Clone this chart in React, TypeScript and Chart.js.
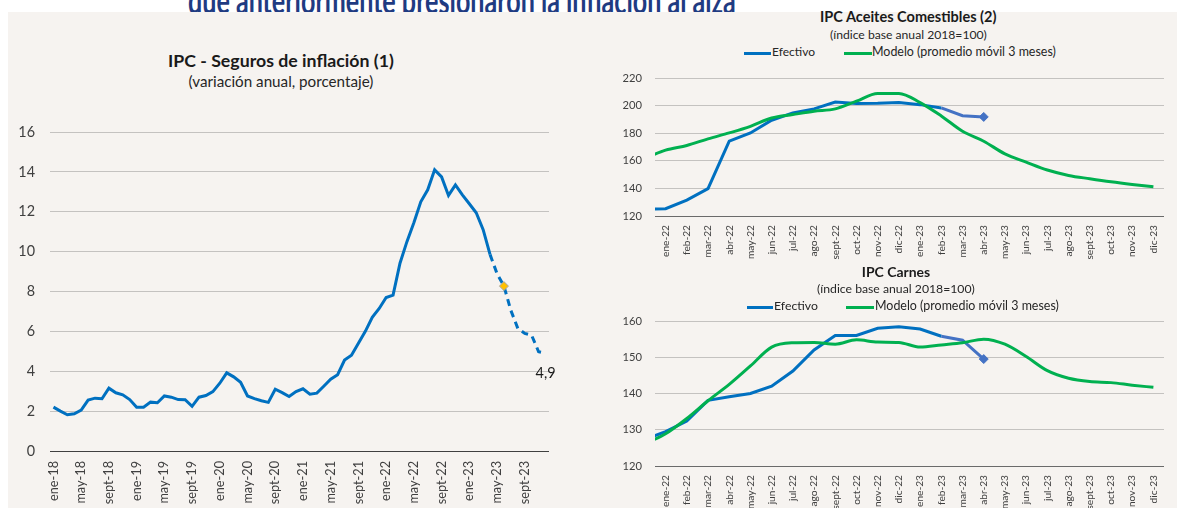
import React, { useEffect, useRef } from 'react';
import { Chart, registerables } from 'chart.js';

Chart.register(...registerables);

const FONT = 'Lato';
const MONTHS = ['ene', 'feb', 'mar', 'abr', 'may', 'jun', 'jul', 'ago', 'sept', 'oct', 'nov', 'dic'];

// ---- Left chart: IPC - Seguros de inflación ----
const SEGUROS_YEARS = ['18', '19', '20', '21', '22', '23'];
const SEGUROS_MONTHS = SEGUROS_YEARS.flatMap((y) => MONTHS.map((m) => `${m}-${y}`));
const SEGUROS_TICK_LABELS = SEGUROS_MONTHS.filter((_, i) => i % 4 === 0);
const SEGUROS_VALUES = [
  2.2, 2.0, 1.82, 1.87, 2.05, 2.55, 2.65, 2.62, 3.15, 2.92, 2.82, 2.58,
  2.2, 2.2, 2.45, 2.42, 2.76, 2.7, 2.58, 2.57, 2.24, 2.7, 2.78, 2.98,
  3.4, 3.92, 3.72, 3.45, 2.76, 2.63, 2.52, 2.44, 3.1, 2.93, 2.73, 2.98,
  3.12, 2.85, 2.9, 3.25, 3.6, 3.83, 4.56, 4.8, 5.4, 6.0, 6.7, 7.15,
  7.7, 7.82, 9.42, 10.5, 11.45, 12.5, 13.1, 14.1, 13.75, 12.82, 13.35, 12.85,
  12.4, 11.95, 11.1, 9.85, 8.9, 8.27, 7.05, 6.15, 5.9, 5.8, 4.98, 4.9,
];
const SEGUROS_FORECAST_FROM = 'abr-23';
const SEGUROS_MARKER_AT = 'jun-23';
const SEGUROS_Y_TICKS = [0, 2, 4, 6, 8, 10, 12, 14, 16];

// ---- Right charts ----
const PANEL_MONTHS = ['22', '23'].flatMap((y) => MONTHS.map((m) => `${m}-${y}`));
const PRIOR_MONTH = 'dic-21';
const PANEL_SERIES_MONTHS = [PRIOR_MONTH, ...PANEL_MONTHS];
const EFECTIVO_LATEST_FROM = 'feb-23';

const ACEITES_EFECTIVO = [124.8, 125.3, 131.5, 139.8, 174.2, 180.2, 189.4, 194.7, 197.6, 202.6, 201.5, 201.7, 202.3, 200.7, 198.3, 192.7, 191.8];
const ACEITES_MODELO = [161.5, 167.7, 171.1, 175.9, 180.2, 185, 191, 193.5, 195.9, 197.6, 203.2, 208.8, 208.8, 202.2, 192.5, 181.4, 174.2, 165, 159, 153.3, 149.4, 147, 144.8, 142.9, 141.2];
const ACEITES_Y_TICKS = [120, 140, 160, 180, 200, 220];

const CARNES_EFECTIVO = [127.3, 129.5, 132.4, 138.1, 139.1, 140, 142, 146.2, 152, 156, 156, 158, 158.4, 157.8, 155.8, 154.7, 149.5];
const CARNES_MODELO = [126.1, 128.9, 133.1, 138, 142.5, 147.6, 152.8, 154, 154.1, 153.6, 154.8, 154.2, 154.1, 152.8, 153.4, 154, 155, 153.6, 150.2, 146.3, 144.2, 143.3, 143, 142.3, 141.7];
const CARNES_Y_TICKS = [120, 130, 140, 150, 160];

// ---- Styles ----
const BG = '#f6f3f0';
const BLUE = '#0070c0';
const BLUE_LIGHT = '#4472c4';
const GREEN = '#00b050';
const MARK_FILL = '#ffc000';
const MARK_BORDER = '#a5a5a5';
const GRID = '#c4c2c0';
const AXIS_LEFT = '#404040';
const AXIS_RIGHT = '#6a6a6a';
const TICK = '#404040';
const TITLE_BLUE = '#1f3b82';

const mctx = document.createElement('canvas').getContext('2d') as CanvasRenderingContext2D;
function fitSize(text: string, weight: string, width: number) {
  mctx.font = `${weight} 100px ${FONT}`;
  return (100 * width) / mctx.measureText(text).width;
}

Chart.defaults.font.family = FONT;
Chart.defaults.color = TICK;

const LEFT_X_FONT = fitSize('ene-18', 'normal', 40);
const LEFT_Y_FONT = fitSize('16', 'normal', 16.7);
const RIGHT_X_FONT = fitSize('ene-22', 'normal', 32);
const RIGHT_Y_FONT = fitSize('200', 'normal', 19.5);
const LAST_LABEL_FONT = fitSize('4,9', 'normal', 20);

const lastLabelPlugin = {
  id: 'lastLabel',
  afterDatasetsDraw(chart: any) {
    const meta = chart.getDatasetMeta(0);
    const pt = meta.data[meta.data.length - 1];
    const v = SEGUROS_VALUES[SEGUROS_VALUES.length - 1];
    const ctx = chart.ctx;
    ctx.save();
    ctx.font = `${LAST_LABEL_FONT}px ${FONT}`;
    ctx.fillStyle = '#1a1a1a';
    ctx.textAlign = 'center';
    ctx.textBaseline = 'middle';
    ctx.fillText(v.toFixed(1).replace('.', ','), pt.x, pt.y + 20);
    ctx.restore();
  },
};

function leftConfig(): any {
  const fIdx = SEGUROS_MONTHS.indexOf(SEGUROS_FORECAST_FROM);
  const mIdx = SEGUROS_MONTHS.indexOf(SEGUROS_MARKER_AT);
  return {
    type: 'line',
    data: {
      labels: SEGUROS_MONTHS,
      datasets: [
        {
          data: SEGUROS_VALUES,
          borderColor: BLUE,
          borderWidth: 3,
          tension: 0,
          segment: { borderDash: (c: any) => (c.p0DataIndex >= fIdx ? [7, 5] : undefined) },
          pointRadius: (c: any) => (c.dataIndex === mIdx ? 4.5 : 0),
          pointHoverRadius: 0,
          pointStyle: 'rectRot',
          pointBackgroundColor: MARK_FILL,
          pointBorderColor: MARK_BORDER,
          pointBorderWidth: 1,
        },
      ],
    },
    options: {
      responsive: false,
      animation: false,
      events: [],
      layout: { padding: { top: 20, right: 11, left: 0, bottom: 0 } },
      plugins: { legend: { display: false }, tooltip: { enabled: false } },
      scales: {
        x: {
          type: 'category',
          offset: true,
          grid: { display: false, drawTicks: false },
          border: { display: false },
          ticks: {
            autoSkip: false,
            maxRotation: 90,
            minRotation: 90,
            padding: 10,
            color: TICK,
            font: { family: FONT, size: LEFT_X_FONT },
            callback: (_v: any, i: number) => (SEGUROS_TICK_LABELS.includes(SEGUROS_MONTHS[i]) ? SEGUROS_MONTHS[i] : ''),
          },
          afterFit: (s: any) => {
            s.height = 57;
            s.paddingLeft = 0;
            s.paddingRight = 0;
          },
        },
        y: {
          min: SEGUROS_Y_TICKS[0],
          max: SEGUROS_Y_TICKS[SEGUROS_Y_TICKS.length - 1],
          ticks: { stepSize: SEGUROS_Y_TICKS[1] - SEGUROS_Y_TICKS[0], padding: 15, color: TICK, font: { family: FONT, size: LEFT_Y_FONT } },
          grid: {
            color: (c: any) => (c.tick && c.tick.value === SEGUROS_Y_TICKS[0] ? AXIS_LEFT : GRID),
            drawTicks: false,
            lineWidth: 1,
          },
          border: { display: false },
          afterFit: (s: any) => {
            s.width = 50;
            s.paddingTop = 0;
            s.paddingBottom = 0;
          },
        },
      },
    },
    plugins: [lastLabelPlugin],
  };
}

function panelConfig(efectivo: number[], modelo: number[], yTicks: number[], padTop: number, xHeight: number): any {
  const lightFrom = PANEL_SERIES_MONTHS.indexOf(EFECTIVO_LATEST_FROM);
  const lastIdx = efectivo.length - 1;
  return {
    type: 'line',
    data: {
      datasets: [
        {
          label: 'Efectivo',
          order: 1,
          data: efectivo.map((y, i) => ({ x: i - 1, y })),
          borderColor: BLUE,
          borderWidth: 3,
          tension: 0,
          segment: { borderColor: (c: any) => (c.p0DataIndex >= lightFrom ? BLUE_LIGHT : undefined) },
          pointRadius: (c: any) => (c.dataIndex === lastIdx ? 4.5 : 0),
          pointHoverRadius: 0,
          pointStyle: 'rectRot',
          pointBackgroundColor: BLUE_LIGHT,
          pointBorderColor: BLUE_LIGHT,
          pointBorderWidth: 1,
        },
        {
          label: 'Modelo (promedio móvil 3 meses)',
          order: 0,
          data: modelo.map((y, i) => ({ x: i - 1, y })),
          borderColor: GREEN,
          borderWidth: 3,
          cubicInterpolationMode: 'monotone',
          pointRadius: 0,
          pointHoverRadius: 0,
        },
      ],
    },
    options: {
      responsive: false,
      animation: false,
      events: [],
      layout: { padding: { top: padTop, right: 13, left: 0, bottom: 0 } },
      plugins: { legend: { display: false }, tooltip: { enabled: false } },
      scales: {
        x: {
          type: 'linear',
          min: -0.5,
          max: PANEL_MONTHS.length - 0.5,
          bounds: 'data',
          grid: { display: false, drawTicks: false },
          border: { display: false },
          afterBuildTicks: (s: any) => {
            s.ticks = PANEL_MONTHS.map((_, i) => ({ value: i }));
          },
          ticks: {
            autoSkip: false,
            maxRotation: 90,
            minRotation: 90,
            padding: 9,
            color: TICK,
            font: { family: FONT, size: RIGHT_X_FONT },
            callback: (v: any) => PANEL_MONTHS[Math.round(v)] ?? '',
          },
          afterFit: (s: any) => {
            s.height = xHeight;
            s.paddingLeft = 0;
            s.paddingRight = 0;
          },
        },
        y: {
          min: yTicks[0],
          max: yTicks[yTicks.length - 1],
          ticks: { stepSize: yTicks[1] - yTicks[0], padding: 13, color: TICK, font: { family: FONT, size: RIGHT_Y_FONT } },
          grid: {
            color: (c: any) => (c.tick && c.tick.value === yTicks[0] ? AXIS_RIGHT : GRID),
            drawTicks: false,
            lineWidth: 1,
          },
          border: { display: false },
          afterFit: (s: any) => {
            s.width = 95;
            s.paddingTop = 0;
            s.paddingBottom = 0;
          },
        },
      },
    },
  };
}

function ChartCanvas({ left, top, width, height, make }: { left: number; top: number; width: number; height: number; make: () => any }) {
  const ref = useRef<HTMLCanvasElement>(null);
  useEffect(() => {
    const chart = new Chart(ref.current as HTMLCanvasElement, make());
    return () => chart.destroy();
  }, []);
  return <canvas ref={ref} width={width} height={height} style={{ position: 'absolute', left, top, width, height }} />;
}

function Txt({ text, x, cx, y, baseline, w, weight = 'normal', color = '#1a1a1a', stretchY = 1 }: any) {
  const fs = fitSize(text, weight, w);
  const left = cx !== undefined ? cx - w / 2 : x;
  const base = baseline !== undefined ? baseline : y + 0.3 * fs;
  return (
    <div
      style={{
        position: 'absolute',
        left,
        top: base - 0.887 * fs,
        fontFamily: FONT,
        fontWeight: weight as any,
        fontSize: fs,
        lineHeight: `${fs}px`,
        color,
        whiteSpace: 'nowrap',
        transform: stretchY !== 1 ? `scaleY(${stretchY})` : undefined,
        transformOrigin: `0 ${0.887 * fs}px`,
      }}
    >
      {text}
    </div>
  );
}

function LegendLine({ x1, x2, y, color }: { x1: number; x2: number; y: number; color: string }) {
  return <div style={{ position: 'absolute', left: x1, top: y - 1.5, width: x2 - x1, height: 3, background: color }} />;
}

export default function App() {
  useEffect(() => {
    document.body.style.margin = '0';
    document.body.style.overflow = 'hidden';
  }, []);
  return (
    <div style={{ position: 'fixed', left: 0, top: 0, width: 1177, height: 508, background: '#ffffff', overflow: 'hidden' }}>
      <Txt text="que anteriormente presionaron la inflación al alza" x={188} baseline={14} w={548} weight="bold" color={TITLE_BLUE} stretchY={1.5} />
      <div style={{ position: 'absolute', left: 8, top: 12, width: 1169, height: 496, background: BG }} />

      <Txt text="IPC - Seguros de inflación (1)" cx={281} y={62} w={226} weight="bold" />
      <Txt text="(variación anual, porcentaje)" cx={281} y={83} w={185} color="#262626" />
      <ChartCanvas left={0} top={112} width={560} height={396} make={leftConfig} />

      <Txt text="IPC Aceites Comestibles (2)" cx={908.5} y={19} w={177} weight="bold" />
      <Txt text="(índice base anual 2018=100)" cx={908.5} y={36} w={157} color="#262626" />
      <LegendLine x1={743.5} x2={771} y={53} color={BLUE} />
      <Txt text="Efectivo" x={772} y={53} w={43} color="#262626" />
      <LegendLine x1={843.6} x2={871.6} y={53} color={GREEN} />
      <Txt text="Modelo (promedio móvil 3 meses)" x={872} y={53} w={184} color="#262626" />
      <ChartCanvas left={560} top={64} width={617} height={204} make={() => panelConfig(ACEITES_EFECTIVO, ACEITES_MODELO, ACEITES_Y_TICKS, 14, 52)} />

      <Txt text="IPC Carnes" cx={896} y={273} w={68.5} weight="bold" />
      <Txt text="(índice base anual 2018=100)" cx={896} y={290} w={158} color="#262626" />
      <LegendLine x1={746.5} x2={773} y={307} color={BLUE} />
      <Txt text="Efectivo" x={774} y={307} w={44} color="#262626" />
      <LegendLine x1={846} x2={874} y={307} color={GREEN} />
      <Txt text="Modelo (promedio móvil 3 meses)" x={875} y={307} w={184} color="#262626" />
      <ChartCanvas left={560} top={310} width={617} height={198} make={() => panelConfig(CARNES_EFECTIVO, CARNES_MODELO, CARNES_Y_TICKS, 11, 42)} />
    </div>
  );
}
